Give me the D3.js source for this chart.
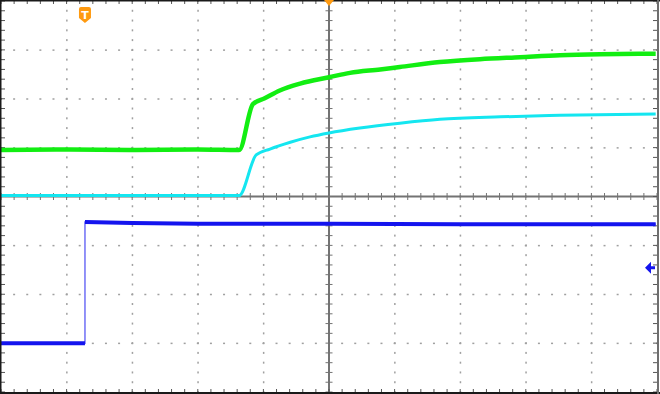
<!DOCTYPE html>
<html>
<head>
<meta charset="utf-8">
<script src="https://cdn.jsdelivr.net/npm/d3@7"></script>
<style>
  body { margin: 0; background: #fff; }
  svg { display: block; }
</style>
</head>
<body>
<div id="scope"></div>
<script>
// traces in screen divisions: [time div, vertical div]
const greenTrace = [
  [-5, 0.95], [-4, 0.96], [-3, 0.95], [-2, 0.96], [-1.37, 0.95],
  [-1.16, 1.89], [-0.98, 2.01], [-0.75, 2.17], [-0.44, 2.31], [0, 2.44],
  [0.32, 2.53], [0.78, 2.6], [1.08, 2.65], [1.69, 2.75], [2.3, 2.81],
  [2.91, 2.85], [3.52, 2.89], [4.13, 2.91], [4.98, 2.92]
];
const cyanTrace = [
  [-5, 0.02], [-1.37, 0.02], [-1.11, 0.85], [-0.9, 0.97], [-0.59, 1.11],
  [-0.29, 1.22], [0, 1.3], [0.47, 1.4], [1.08, 1.5], [1.69, 1.58],
  [2.61, 1.63], [3.52, 1.66], [4.98, 1.69]
];
const blueTrace = [
  [-5, -3.0], [-3.72, -3.0], [-3.72, -0.52], [-3.0, -0.54], [-2.0, -0.56],
  [0, -0.56], [2.0, -0.57], [4.98, -0.57]
];
const triggerTime = -3.72;
const blueMarkerLevel = -1.46;

const xDivs = d3.range(-5, 6);
const yDivs = d3.range(-4, 5);
const minorX = d3.range(-5, 5.001, 0.2);
const minorY = d3.range(-4, 4.001, 0.2);

const width = 660, height = 394;
const plot = {left: 1, right: 657, top: 1, bottom: 392};

const svg = d3.select("#scope")
    .append("svg")
    .attr("width", width)
    .attr("height", height);

const x = d3.scaleLinear().domain([-5, 5]).range([plot.left, plot.right]);
const y = d3.scaleLinear().domain([-4, 4]).range([plot.bottom, plot.top]);

// dotted graticule
const grid = svg.append("g").attr("fill", "#a0a0a0");
xDivs.filter(d => d !== 0 && Math.abs(d) < 5).forEach(d => {
    grid.selectAll(null)
        .data(minorY)
        .join("rect")
        .attr("x", x(d) - 0.5)
        .attr("y", v => y(v) - 1)
        .attr("width", 1.5)
        .attr("height", 2);
});
yDivs.filter(d => d !== 0 && Math.abs(d) < 4).forEach(d => {
    grid.selectAll(null)
        .data(minorX)
        .join("rect")
        .attr("x", v => x(v) - 1)
        .attr("y", y(d) - 0.5)
        .attr("width", 2)
        .attr("height", 1.5);
});

// center axes with minor ticks
const axes = svg.append("g").attr("stroke", "#737373");
axes.append("line")
    .attr("x1", x(-5)).attr("x2", x(5))
    .attr("y1", y(0)).attr("y2", y(0))
    .attr("stroke-width", 2);
axes.append("line")
    .attr("x1", x(0)).attr("x2", x(0))
    .attr("y1", y(-4)).attr("y2", y(4))
    .attr("stroke-width", 2);
axes.selectAll(".tx")
    .data(minorX)
    .join("line")
    .attr("x1", d => x(d)).attr("x2", d => x(d))
    .attr("y1", y(0) - 3.5).attr("y2", y(0) + 3.5)
    .attr("stroke-width", 1);
axes.selectAll(".ty")
    .data(minorY)
    .join("line")
    .attr("x1", x(0) - 3.5).attr("x2", x(0) + 3.5)
    .attr("y1", d => y(d)).attr("y2", d => y(d))
    .attr("stroke-width", 1);

// border ticks
const edge = svg.append("g").attr("stroke", "#555").attr("stroke-width", 1);
edge.selectAll(".bt")
    .data(minorX)
    .join("line")
    .attr("x1", d => x(d)).attr("x2", d => x(d))
    .attr("y1", plot.top).attr("y2", plot.top + 3);
edge.selectAll(".bb")
    .data(minorX)
    .join("line")
    .attr("x1", d => x(d)).attr("x2", d => x(d))
    .attr("y1", plot.bottom).attr("y2", plot.bottom - 3);
edge.selectAll(".bl")
    .data(minorY)
    .join("line")
    .attr("x1", plot.left).attr("x2", plot.left + 4)
    .attr("y1", d => y(d)).attr("y2", d => y(d));
edge.selectAll(".br")
    .data(minorY)
    .join("line")
    .attr("x1", plot.right).attr("x2", plot.right - 4)
    .attr("y1", d => y(d)).attr("y2", d => y(d));

// traces
const smooth = d3.line().x(d => x(d[0])).y(d => y(d[1])).curve(d3.curveMonotoneX);
const line = d3.line().x(d => x(d[0])).y(d => y(d[1]));

svg.append("path").datum(cyanTrace)
    .attr("fill", "none").attr("stroke", "#14e6f0")
    .attr("stroke-width", 3).attr("d", smooth);
svg.append("path").datum(greenTrace)
    .attr("fill", "none").attr("stroke", "#12ee12")
    .attr("stroke-width", 4.5).attr("stroke-linejoin", "round").attr("d", smooth);

// blue: thin edge, thick flat parts
svg.append("path").datum(blueTrace)
    .attr("fill", "none").attr("stroke", "#6f6ff5")
    .attr("stroke-width", 1.5).attr("d", line);
const blueParts = [
    blueTrace.filter((d, i) => d[0] <= triggerTime && (i === 0 || blueTrace[i - 1][0] < triggerTime)),
    blueTrace.filter((d, i) => d[0] >= triggerTime && i > 0 && blueTrace[i - 1][0] === triggerTime || d[0] > triggerTime)
];
svg.selectAll(".blue")
    .data(blueParts)
    .join("path")
    .attr("fill", "none").attr("stroke", "#1414ee")
    .attr("stroke-width", 4).attr("d", line);

// frame
const frame = svg.append("g").attr("stroke", "#1a1a1a").attr("stroke-width", 2);
frame.append("line").attr("x1", 0).attr("x2", width).attr("y1", 0.5).attr("y2", 0.5);
frame.append("line").attr("x1", 0).attr("x2", width).attr("y1", 393).attr("y2", 393);
frame.append("line").attr("x1", 0.5).attr("x2", 0.5).attr("y1", 0).attr("y2", height);
frame.append("line").attr("x1", plot.right + 1).attr("x2", plot.right + 1)
    .attr("y1", 0).attr("y2", height).attr("stroke", "#6e6e6e");

// trigger position marker
const tx = x(triggerTime);
const trig = svg.append("g").attr("transform", `translate(${tx}, 8)`);
trig.append("path")
    .attr("d", "M-6,1 Q-6,-1 -4,-1 L4,-1 Q6,-1 6,1 L6,10 L0,15 L-6,10 Z")
    .attr("fill", "#ff9a10");
trig.append("text")
    .attr("x", 0).attr("y", 10.5)
    .attr("text-anchor", "middle")
    .attr("font-family", "DejaVu Sans")
    .attr("font-size", 11)
    .attr("font-weight", "bold")
    .attr("fill", "#fff")
    .text("T");

// trigger time (center) marker
svg.append("path")
    .attr("d", `M${x(0) - 5},0 L${x(0) + 5},0 L${x(0)},6 Z`)
    .attr("fill", "#ff9a10");

// blue channel level marker
const my = y(blueMarkerLevel);
svg.append("path")
    .attr("d", `M${plot.right - 12},${my} L${plot.right - 6},${my - 6} L${plot.right - 6},${my - 1.5} L${plot.right - 2},${my - 1.5} L${plot.right - 2},${my + 1.5} L${plot.right - 6},${my + 1.5} L${plot.right - 6},${my + 6} Z`)
    .attr("fill", "#1414ee");
</script>
</body>
</html>
